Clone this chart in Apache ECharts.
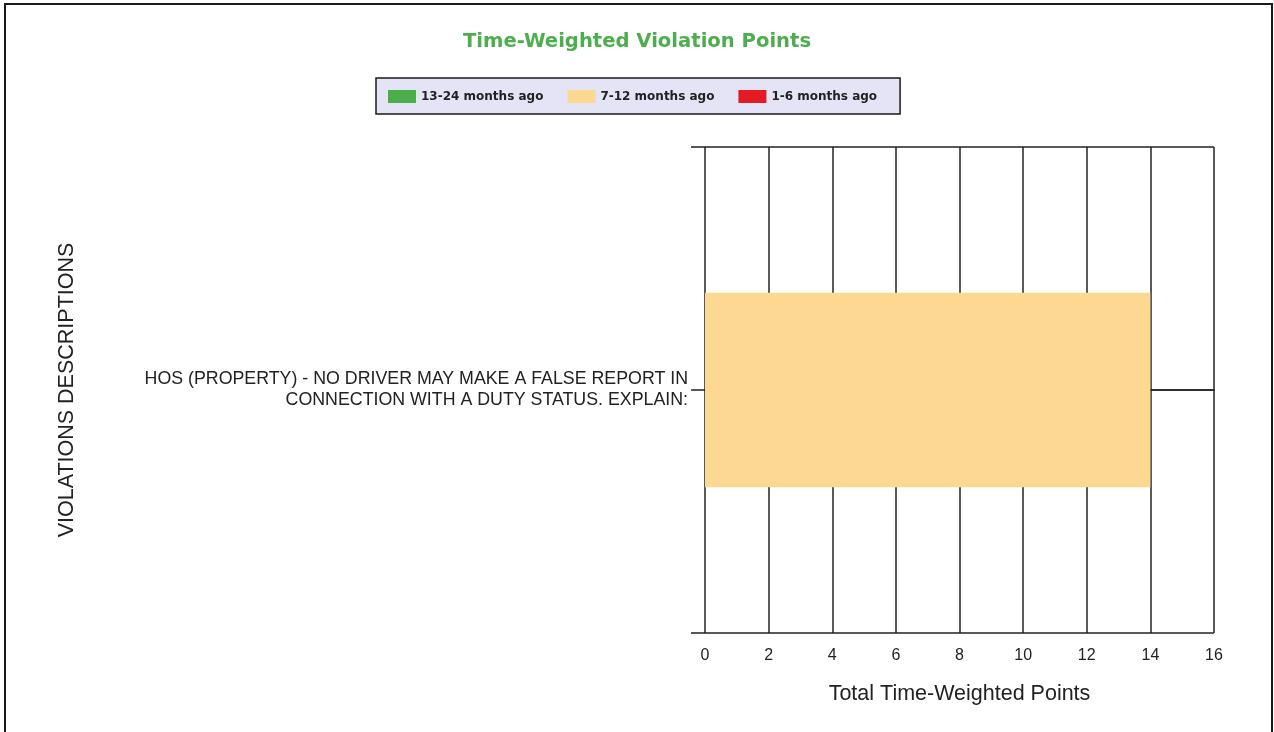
<html>
<head>
    <meta charset="utf-8">
    <style>
        body { margin: 0; background: #fff; }
    </style>
</head>
<body>
    <script src="https://cdn.jsdelivr.net/npm/echarts@6/dist/echarts.min.js"></script>

    <div id="main" style="width: 1274px;height: 732px"></div>

    <script>
// data
var violations = ['HOS (PROPERTY) - NO DRIVER MAY MAKE A FALSE REPORT IN\nCONNECTION WITH A DUTY STATUS. EXPLAIN:'];
var pts13to24 = [0];
var pts7to12 = [14];
var pts1to6 = [0];
var seriesNames = ['13-24 months ago', '7-12 months ago', '1-6 months ago'];

var myChart = echarts.init(document.getElementById('main'));

var lineColor = '#222';

option = {
    animation: false,
    backgroundColor: '#fff',
    graphic: [{
        type: 'rect',
        shape: { x: 5, y: 4, width: 1267, height: 800 },
        style: { fill: 'none', stroke: '#1a1a1a', lineWidth: 2 },
        silent: true
    }],
    title: {
        text: 'Time-Weighted Violation Points',
        left: 'center',
        top: 27,
        textStyle: {
            color: '#4cae4c',
            fontSize: 19.6,
            fontWeight: 'bold',
            fontFamily: 'DejaVu Sans'
        }
    },
    legend: {
        top: 78,
        left: 376,
        data: seriesNames,
        itemWidth: 28,
        itemHeight: 13,
        itemGap: 24,
        backgroundColor: '#e4e4f6',
        borderColor: '#1a1a1a',
        borderWidth: 1.5,
        borderRadius: 0,
        padding: [12, 23, 11, 12],
        icon: 'rect',
        textStyle: {
            fontSize: 12,
            fontWeight: 'bold',
            color: '#222',
            fontFamily: 'DejaVu Sans'
        }
    },
    grid: {
        left: 705,
        right: 60,
        top: 147,
        bottom: 99,
        containLabel: false
    },
    xAxis: {
        type: 'value',
        min: 0,
        max: 16,
        interval: 2,
        name: 'Total Time-Weighted Points',
        nameLocation: 'middle',
        nameGap: 50,
        nameTextStyle: { fontSize: 21.5, color: '#222', fontFamily: 'Liberation Sans' },
        axisLine: { show: true, lineStyle: { color: lineColor, width: 1.5 } },
        axisTick: { show: false },
        axisLabel: { fontSize: 16, color: '#222', margin: 15, fontFamily: 'Liberation Sans' },
        splitLine: { show: true, lineStyle: { color: lineColor, width: 1.5 } }
    },
    yAxis: [{
        type: 'category',
        data: violations,
        name: 'VIOLATIONS DESCRIPTIONS',
        nameLocation: 'middle',
        nameRotate: 90,
        nameGap: 627,
        nameTextStyle: { fontSize: 21.5, color: '#222', fontFamily: 'Liberation Sans' },
        axisLine: { show: false },
        axisTick: { show: false },
        splitLine: { show: false },
        axisLabel: {
            fontSize: 17.8,
            color: '#222',
            align: 'right',
            lineHeight: 21,
            margin: 17,
            fontFamily: 'Liberation Sans'
        }
    }, {
        type: 'value',
        position: 'left',
        min: -1,
        max: 1,
        interval: 1,
        axisLine: { show: false },
        axisLabel: { show: false },
        axisTick: { show: true, length: 14, lineStyle: { color: lineColor, width: 1.5 } },
        splitLine: { show: true, lineStyle: { color: lineColor, width: 1.5 } }
    }],
    series: [
        {
            name: seriesNames[0],
            type: 'bar',
            stack: 'pts',
            yAxisIndex: 0,
            barWidth: '40%',
            itemStyle: { color: '#4aae4a' },
            data: pts13to24
        },
        {
            name: seriesNames[1],
            type: 'bar',
            stack: 'pts',
            yAxisIndex: 0,
            barWidth: '40%',
            itemStyle: { color: '#fdd892' },
            data: pts7to12
        },
        {
            name: seriesNames[2],
            type: 'bar',
            stack: 'pts',
            yAxisIndex: 0,
            barWidth: '40%',
            itemStyle: { color: '#e31b23' },
            data: pts1to6
        }
    ]
};

myChart.setOption(option);
    </script>
</body>
</html>
